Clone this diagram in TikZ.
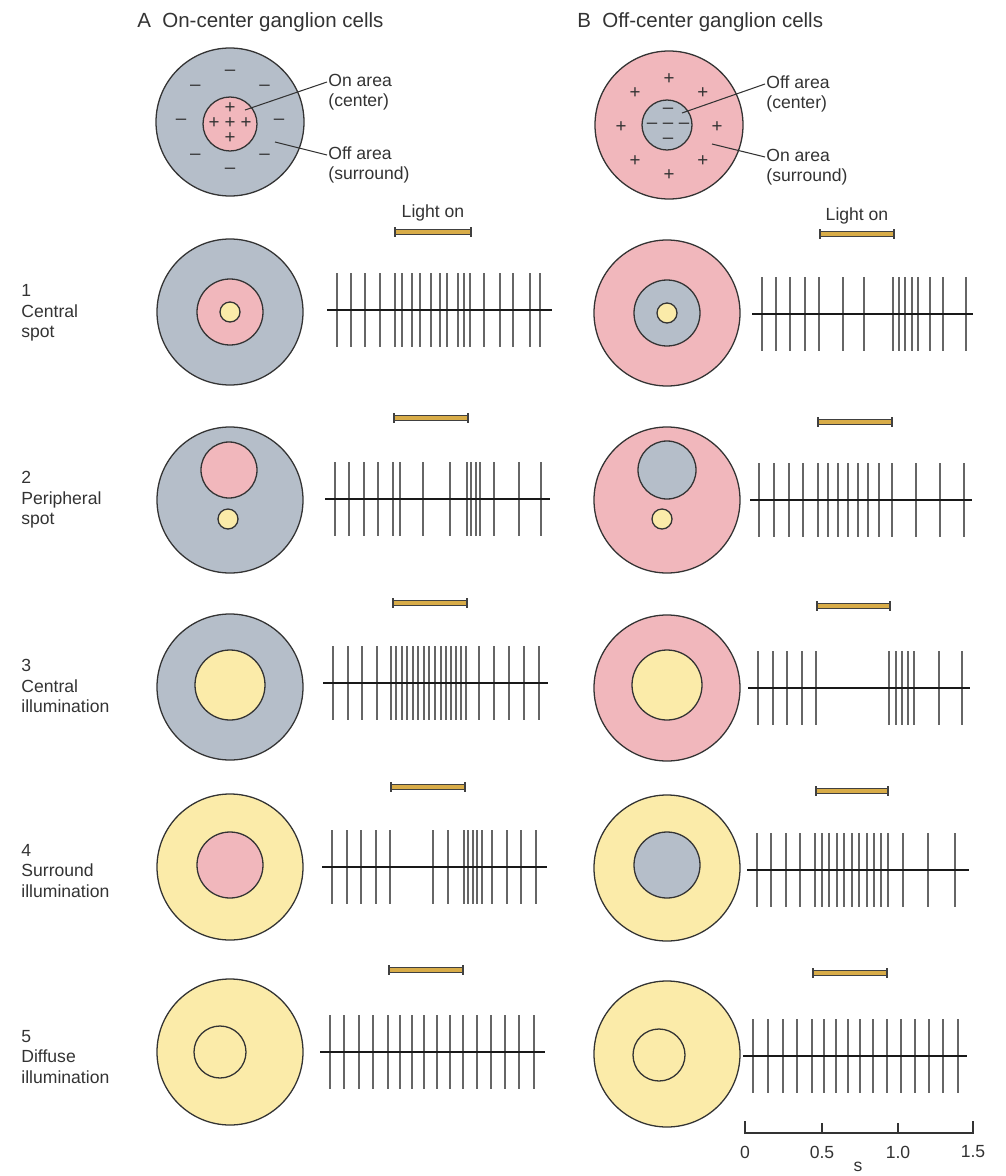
\documentclass[tikz,border=0pt]{standalone}
\usepackage{fontspec}
\setmainfont{Liberation Sans}
\usetikzlibrary{positioning}
\definecolor{onpink}{HTML}{F1B7BC}
\definecolor{offgrey}{HTML}{B5BEC9}
\definecolor{lightyellow}{HTML}{FBEBA9}
\definecolor{bargold}{HTML}{D8AC48}
\definecolor{inkgrey}{HTML}{333333}
\tikzset{
  field/.style={draw=inkgrey,line width=1.1pt},
  spike/.style={draw=black!60,line width=1.3pt},
  trace/.style={draw=black!90,line width=2.2pt},
  txt/.style={text=inkgrey,font=\fontsize{15}{17.5}\selectfont,inner sep=1pt,align=left},
  lbl/.style={txt,text height=11pt,text depth=3.5pt},
  sign/.style={text=inkgrey,font=\fontsize{16}{16}\selectfont,inner sep=0pt},
  leader/.style={draw=inkgrey,line width=0.9pt},
}
\newcommand{\drawtrain}[4]{% {y}{x from}{x to}{spike times}
  \foreach \s in {#4} {\draw[spike] (\s,#1-37) -- (\s,#1+37);}
  \draw[trace] (#2,#1) -- (#3,#1);
}
\newcommand{\lightbar}[3]{% {y}{x from}{x to}
  \draw[draw=black!75,fill=bargold,line width=0.8pt] (#2,#1-2.5) rectangle (#3,#1+2.5);
  \draw[black!75,line width=1pt] (#2,#1-5) -- (#2,#1+5) (#3,#1-5) -- (#3,#1+5);
}

\begin{document}
\begin{tikzpicture}[x=0.03cm,y=-0.03cm]
  \useasboundingbox (0,0) rectangle (1005,1176);
  % Titles
  \node[txt,font=\fontsize{17.5}{20}\selectfont,anchor=base west] (titleA) at (136,27) {A\hspace{0.55em}On-center ganglion cells};
  \node[txt,font=\fontsize{17.5}{20}\selectfont,anchor=base west] (titleB) at (576,27) {B\hspace{0.55em}Off-center ganglion cells};

  % A: field map
  \draw[field,fill=offgrey] (230,122) circle (74);
  \draw[field,fill=onpink] (230,124) circle (27);
  \foreach \a [count=\i] in {0,45,...,315}
    \node[sign] (mA\i) at ({230+49*cos(\a)},{122+49*sin(\a)}) {–};
  \foreach \dx/\dy [count=\i] in {0/-15,-16/0,0/0,16/0,0/15}
    \node[sign] (pA\i) at ({230+\dx},{123+\dy}) {+};
  \node[lbl,anchor=west] (onA) at (327,82) {On area};
  \node[lbl,anchor=north west] (onAb) at (onA.south west) {(center)};
  \node[lbl,anchor=west] (offA) at (327,155) {Off area};
  \node[lbl,anchor=north west] (offAb) at (offA.south west) {(surround)};
  \coordinate (onAspot) at (245,110);
  \coordinate (offAspot) at (275,142);
  \draw[leader] (onAspot) -- (onA.west);
  \draw[leader] (offAspot) -- (offA.west);

  % B: field map
  \draw[field,fill=onpink] (669,125) circle (74);
  \draw[field,fill=offgrey] (667,125) circle (25);
  \foreach \a [count=\i] in {0,45,...,315}
    \node[sign] (pB\i) at ({669+48*cos(\a)},{127+48*sin(\a)}) {+};
  \foreach \dx/\dy [count=\i] in {0/-15,-16/0,0/0,16/0,0/15}
    \node[sign] (mB\i) at ({668+\dx},{126+\dy}) {–};
  \node[lbl,anchor=west] (offB) at (765,84) {Off area};
  \node[lbl,anchor=north west] (offBb) at (offB.south west) {(center)};
  \node[lbl,anchor=west] (onB) at (765,157) {On area};
  \node[lbl,anchor=north west] (onBb) at (onB.south west) {(surround)};
  \coordinate (offBspot) at (682,113);
  \coordinate (onBspot) at (712,144);
  \draw[leader] (offBspot) -- (offB.west);
  \draw[leader] (onBspot) -- (onB.west);

  % Row labels
  \node[txt,anchor=west] (row1) at (20,313) {1\\Central\\spot};
  \node[txt,anchor=west] (row2) at (20,500) {2\\Peripheral\\spot};
  \node[txt,anchor=west] (row3) at (20,686) {3\\Central\\illumination};
  \node[txt,anchor=west] (row4) at (20,871) {4\\Surround\\illumination};
  \node[txt,anchor=west] (row5) at (20,1057) {5\\Diffuse\\illumination};

  % Row 1: central spot
  \draw[field,fill=offgrey] (230,312) circle (73);
  \draw[field,fill=onpink] (230,312) circle (33);
  \draw[field,fill=lightyellow] (230,312) circle (10);
  \draw[field,fill=onpink] (667,313) circle (73);
  \draw[field,fill=offgrey] (667,313) circle (33);
  \draw[field,fill=lightyellow] (667,313) circle (10);
  \node[txt] (lightA) at (433,213) {Light on};
  \node[txt] (lightB) at (857,216) {Light on};
  \lightbar{232}{395}{471}
  \lightbar{234}{820}{894}
  \drawtrain{310}{327}{552}{337,351,365,380,395,402,412,420,431,440,447,458,464,470,484,500,513,530,540}
  \drawtrain{314}{752}{973}{762,776,790,805,819,843,864,893,899,905,912,918,930,943,966}

  % Row 2: peripheral spot
  \draw[field,fill=offgrey] (230,500) circle (73);
  \draw[field,fill=onpink] (229,470) circle (28);
  \draw[field,fill=lightyellow] (228,519) circle (10);
  \draw[field,fill=onpink] (667,500) circle (73);
  \draw[field,fill=offgrey] (667,470) circle (29);
  \draw[field,fill=lightyellow] (662,519) circle (10);
  \lightbar{418}{394}{468}
  \lightbar{422}{818}{892}
  \drawtrain{499}{325}{550}{335,349,364,378,393,400,423,450,467,471,476,480,494,519,541}
  \drawtrain{500}{750}{972}{759,774,789,803,818,828,838,848,858,868,879,892,916,940,964}

  % Row 3: central illumination
  \draw[field,fill=offgrey] (230,687) circle (73);
  \draw[field,fill=lightyellow] (230,685) circle (35);
  \draw[field,fill=onpink] (667,688) circle (73);
  \draw[field,fill=lightyellow] (667,685) circle (35);
  \lightbar{603}{393}{467}
  \lightbar{606}{817}{890}
  \drawtrain{683}{323}{548}{333,348,362,377,391,396,402,407,413,418,424,429,435,441,446,451,456,461,466,479,494,509,524,539}
  \drawtrain{688}{748}{970}{758,773,787,802,816,889,896,902,908,914,939,962}

  % Row 4: surround illumination
  \draw[field,fill=lightyellow] (230,867) circle (73);
  \draw[field,fill=onpink] (230,865) circle (33);
  \draw[field,fill=lightyellow] (667,868) circle (73);
  \draw[field,fill=offgrey] (667,865) circle (33);
  \lightbar{787}{391}{465}
  \lightbar{791}{816}{888}
  \drawtrain{867}{322}{547}{332,347,361,376,390,433,448,464,468,473,477,482,492,507,521,536}
  \drawtrain{870}{747}{969}{757,771,786,800,815,822,829,837,844,852,859,867,874,881,888,903,928,955}

  % Row 5: diffuse illumination
  \draw[field,fill=lightyellow] (230,1052) circle (73);
  \draw[field] (220,1052) circle (26);
  \draw[field,fill=lightyellow] (667,1054) circle (73);
  \draw[field] (659,1055) circle (26);
  \lightbar{970}{389}{463}
  \lightbar{973}{813}{887}
  \drawtrain{1052}{320}{545}{330,344,359,373,388,400,412,424,437,450,463,477,491,505,519,534}
  \drawtrain{1056}{743}{967}{753,768,783,797,812,824,836,848,860,873,887,901,915,929,943,958}

  % Time scale
  \draw[black!80,line width=1.2pt] (745,1121) -- (745,1133) -- (973,1133) -- (973,1121);
  \draw[black!80,line width=1.2pt] (822,1133) -- (822,1123) (898,1133) -- (898,1123);
  \node[txt] (t0) at (745,1152) {0};
  \node[txt] (t1) at (822,1152) {0.5};
  \node[txt] (t2) at (898,1152) {1.0};
  \node[txt] (t3) at (973,1152) {1.5};
  \node[txt] (unit) at (858,1167) {s};
\end{tikzpicture}
\end{document}
